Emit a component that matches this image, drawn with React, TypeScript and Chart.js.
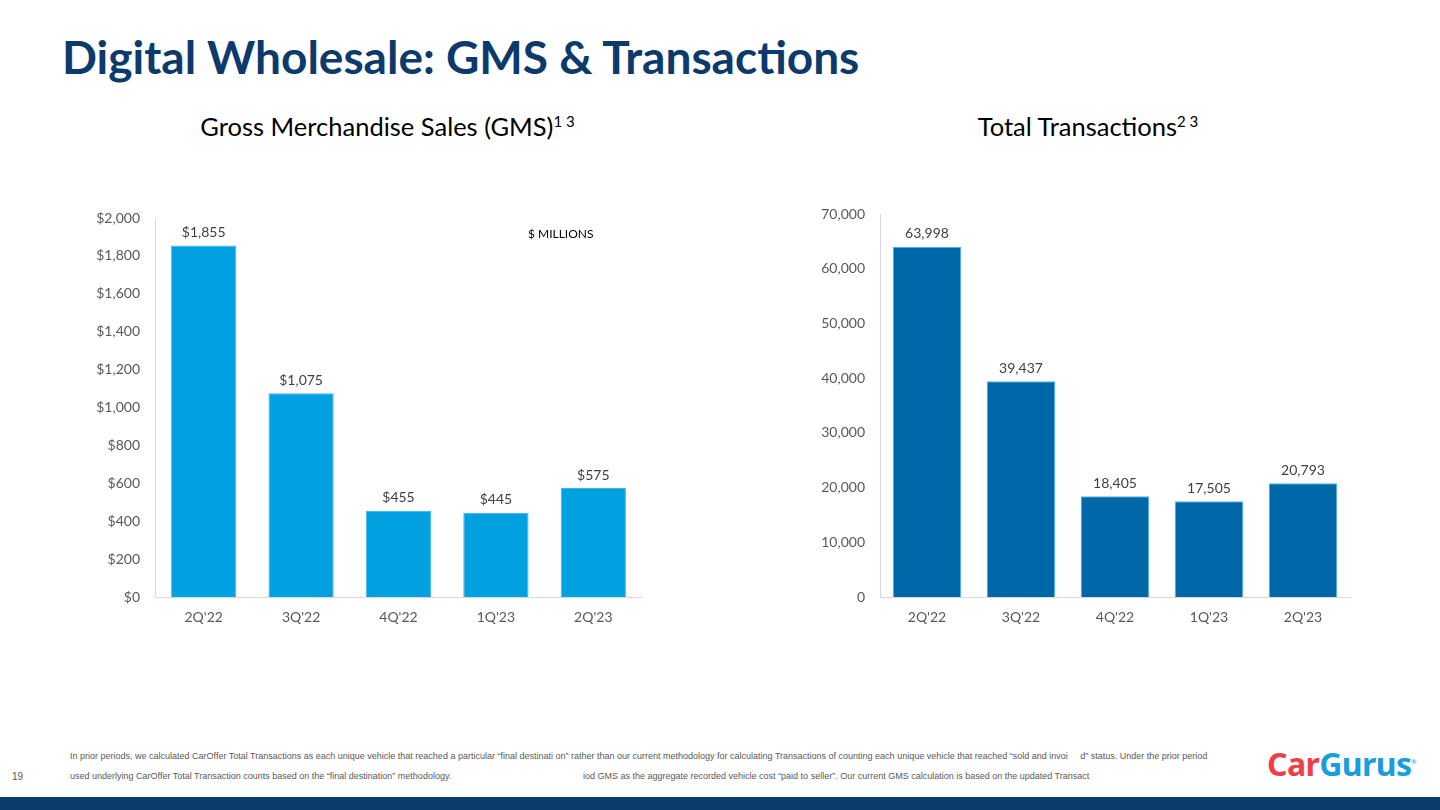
import React, { useEffect, useRef } from "react";
import { Chart, registerables } from "chart.js";

Chart.register(...registerables);

const categories = ["2Q'22", "3Q'22", "4Q'22", "1Q'23", "2Q'23"];
const gmsValues = [1855, 1075, 455, 445, 575];
const gmsLabels = ["$1,855", "$1,075", "$455", "$445", "$575"];
const txValues = [63998, 39437, 18405, 17505, 20793];
const txLabels = ["63,998", "39,437", "18,405", "17,505", "20,793"];

const footLine1 =
  "In prior periods, we calculated CarOffer Total Transactions as each unique vehicle that reached a particular \u201cfinal destinati on\u201d rather than our current methodology for calculating Transactions of counting each unique vehicle that reached \u201csold and invoi     d\u201d status. Under the prior period";
const footLine2a =
  "used underlying CarOffer Total Transaction counts based on the \u201cfinal destination\u201d methodology.";
const footLine2b =
  "iod GMS as the aggregate recorded vehicle cost \u201cpaid to seller\u201d. Our current GMS calculation is based on the updated Transact";

const CHART_FONT = "Lato, 'Open Sans', sans-serif";

function makeLabelPlugin(labels: string[]) {
  return {
    id: "valueLabels",
    afterDatasetsDraw(chart: any) {
      const ctx = chart.ctx;
      const meta = chart.getDatasetMeta(0);
      ctx.save();
      ctx.font = `14px ${CHART_FONT}`;
      ctx.fillStyle = "#404040";
      ctx.textAlign = "center";
      ctx.textBaseline = "middle";
      meta.data.forEach((el: any, i: number) => {
        ctx.fillText(labels[i], el.x, el.y - 13);
      });
      ctx.restore();
    },
  };
}

interface BarProps {
  values: number[];
  labels: string[];
  max: number;
  step: number;
  tickFmt: (v: number) => string;
  fill: string;
  border: string;
  barPct: number;
  width: number;
  height: number;
  yWidth: number;
  padRight: number;
  padTop: number;
}

function BarChart(p: BarProps) {
  const ref = useRef<HTMLCanvasElement | null>(null);
  useEffect(() => {
    if (!ref.current) return;
    const chart = new Chart(ref.current, {
      type: "bar",
      data: {
        labels: categories,
        datasets: [
          {
            data: p.values,
            backgroundColor: p.fill,
            borderColor: p.border,
            borderWidth: 1,
            categoryPercentage: 1,
            barPercentage: p.barPct,
          },
        ],
      },
      options: {
        responsive: false,
        animation: false,
        devicePixelRatio: 1,
        layout: { padding: { top: p.padTop, right: p.padRight, left: 0, bottom: 0 } },
        plugins: {
          legend: { display: false },
          tooltip: { enabled: false },
          title: { display: false },
        },
        scales: {
          x: {
            grid: { display: false, drawTicks: false },
            border: { display: true, color: "#d9d9d9", width: 1 },
            ticks: {
              color: "#595959",
              font: { family: CHART_FONT, size: 14 },
              padding: 12,
            },
            afterFit: (s: any) => {
              s.height = 43;
              s.paddingLeft = 0;
              s.paddingRight = 0;
            },
          },
          y: {
            min: 0,
            max: p.max,
            grid: { display: false, drawTicks: false },
            border: { display: true, color: "#d9d9d9", width: 1 },
            ticks: {
              stepSize: p.step,
              color: "#595959",
              font: { family: CHART_FONT, size: 14 },
              padding: 15,
              callback: (v: any) => p.tickFmt(Number(v)),
            },
            afterFit: (s: any) => {
              s.width = p.yWidth;
              s.paddingTop = 0;
              s.paddingBottom = 0;
            },
          },
        },
      },
      plugins: [makeLabelPlugin(p.labels)],
    } as any);
    return () => chart.destroy();
  }, []);
  return (
    <canvas
      ref={ref}
      width={p.width}
      height={p.height}
      style={{ display: "block", width: p.width, height: p.height }}
    />
  );
}

const footStyle: React.CSSProperties = {
  position: "absolute",
  fontFamily: "'Liberation Sans', Arial, sans-serif",
  fontSize: 9,
  color: "#595959",
  whiteSpace: "pre",
};

export default function App() {
  return (
    <div
      style={{
        position: "fixed",
        left: 0,
        top: 0,
        width: 1440,
        height: 810,
        background: "#ffffff",
        overflow: "hidden",
        fontFamily: "Lato, sans-serif",
      }}
    >
      <div
        style={{
          position: "absolute",
          left: 62,
          top: 29,
          fontSize: 46,
          fontWeight: 700,
          color: "#0c3a6b",
          whiteSpace: "nowrap",
        }}
      >
        Digital Wholesale: GMS &amp; Transactions
      </div>

      <div
        style={{
          position: "absolute",
          left: 0,
          width: 775,
          top: 111,
          textAlign: "center",
          fontSize: 25.5,
          color: "#000",
          whiteSpace: "nowrap",
        }}
      >
        Gross Merchandise Sales (GMS)<sup style={{ fontSize: 15 }}>1 3</sup>
      </div>
      <div
        style={{
          position: "absolute",
          left: 870,
          width: 436,
          top: 111,
          textAlign: "center",
          fontSize: 25.5,
          color: "#000",
          whiteSpace: "nowrap",
        }}
      >
        Total Transactions<sup style={{ fontSize: 15 }}>2 3</sup>
      </div>

      <div style={{ position: "absolute", left: 60, top: 200 }}>
        <BarChart
          values={gmsValues}
          labels={gmsLabels}
          max={2000}
          step={200}
          tickFmt={(v) => "$" + v.toLocaleString("en-US")}
          fill="#00a0e1"
          border="#3fb2ee"
          barPct={0.67}
          width={600}
          height={440}
          yWidth={95}
          padRight={18}
          padTop={18}
        />
      </div>
      <div
        style={{
          position: "absolute",
          left: 528,
          top: 226,
          fontSize: 12,
          color: "#000",
          whiteSpace: "nowrap",
        }}
      >
        $ MILLIONS
      </div>

      <div style={{ position: "absolute", left: 780, top: 196 }}>
        <BarChart
          values={txValues}
          labels={txLabels}
          max={70000}
          step={10000}
          tickFmt={(v) => v.toLocaleString("en-US")}
          fill="#0068a9"
          border="#45b8ea"
          barPct={0.73}
          width={590}
          height={444}
          yWidth={100}
          padRight={20}
          padTop={18}
        />
      </div>

      <div style={{ ...footStyle, left: 70, top: 751 }}>{footLine1}</div>
      <div style={{ ...footStyle, left: 70, top: 771 }}>{footLine2a}</div>
      <div style={{ ...footStyle, left: 583, top: 771 }}>{footLine2b}</div>
      <div style={{ ...footStyle, left: 12, top: 771, fontSize: 10 }}>19</div>

      <div
        style={{
          position: "absolute",
          left: 1267,
          top: 742,
          fontFamily: "'Noto Sans', sans-serif",
          fontSize: 32,
          fontWeight: 700,
          whiteSpace: "nowrap",
          letterSpacing: -0.6,
        }}
      >
        <span style={{ color: "#ef3e4a" }}>Car</span>
        <span style={{ color: "#1a9edb" }}>Gurus</span>
        <sup style={{ color: "#1a9edb", fontSize: 6 }}>®</sup>
      </div>

      <div
        style={{
          position: "absolute",
          left: 0,
          top: 797,
          width: 1440,
          height: 13,
          background: "#0c3a6b",
        }}
      />
    </div>
  );
}
